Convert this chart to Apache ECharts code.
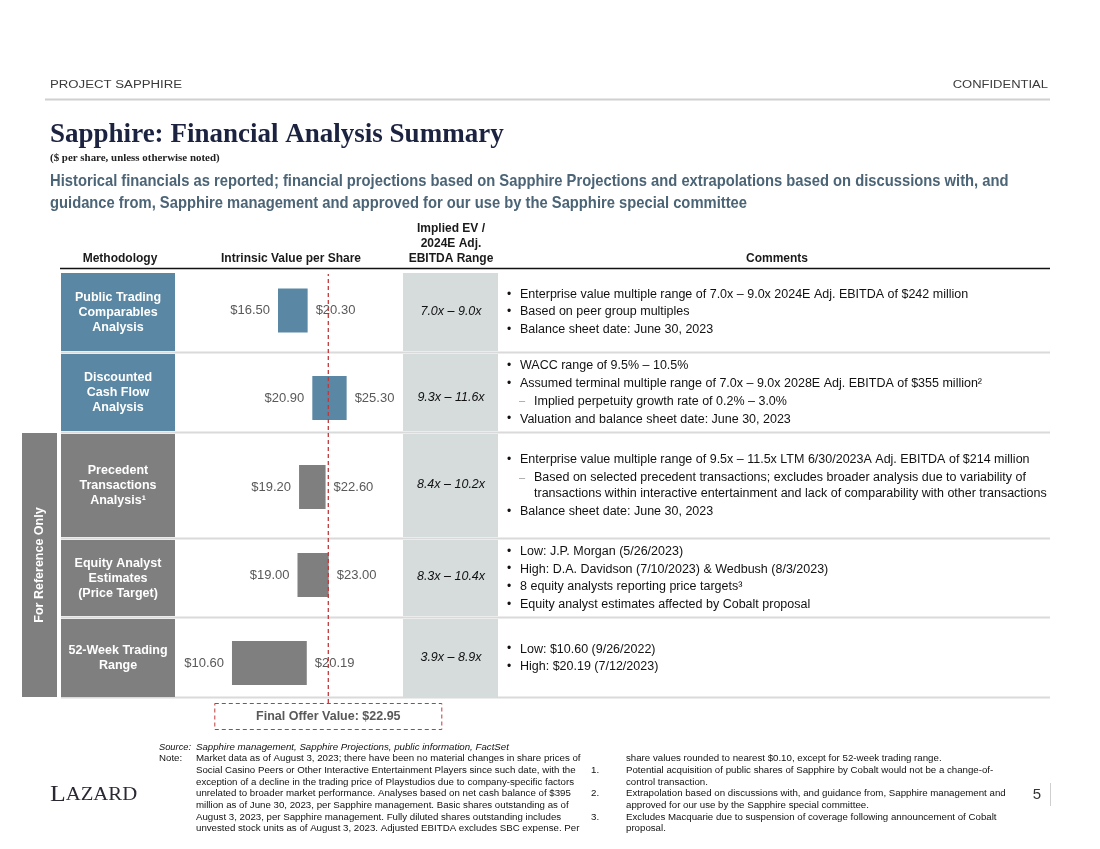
<!DOCTYPE html>
<html>
<head>
<meta charset="utf-8">
<script src="https://cdn.jsdelivr.net/npm/echarts@6/dist/echarts.min.js"></script>
<style>
html,body{margin:0;padding:0;background:#fff;}
#chart{width:1100px;height:849px;}
</style>
</head>
<body>
<div id="chart"></div>
<script>
// ---------------- DATA ----------------
const methods = ['Public Trading\nComparables\nAnalysis', 'Discounted\nCash Flow\nAnalysis', 'Precedent\nTransactions\nAnalysis¹', 'Equity Analyst\nEstimates\n(Price Target)', '52-Week Trading\nRange'];
const lows = [16.50, 20.90, 19.20, 19.00, 10.60];
const highs = [20.30, 25.30, 22.60, 23.00, 20.19];
const evRanges = ['7.0x – 9.0x', '9.3x – 11.6x', '8.4x – 10.2x', '8.3x – 10.4x', '3.9x – 8.9x'];
const finalOffer = 22.95;
const offerLabel = 'Final Offer Value: $22.95';
const referenceOnly = [false, false, true, true, true];
const comments = [
  [['b', 'Enterprise value multiple range of 7.0x – 9.0x 2024E Adj. EBITDA of $242 million'], ['b', 'Based on peer group multiples'], ['b', 'Balance sheet date: June 30, 2023']],
  [['b', 'WACC range of 9.5% – 10.5%'], ['b', 'Assumed terminal multiple range of 7.0x – 9.0x 2028E Adj. EBITDA of $355 million²'], ['s', 'Implied perpetuity growth rate of 0.2% – 3.0%'], ['b', 'Valuation and balance sheet date: June 30, 2023']],
  [['b', 'Enterprise value multiple range of 9.5x – 11.5x LTM 6/30/2023A Adj. EBITDA of $214 million'], ['s', 'Based on selected precedent transactions; excludes broader analysis due to variability of'], ['c', 'transactions within interactive entertainment and lack of comparability with other transactions'], ['b', 'Balance sheet date: June 30, 2023']],
  [['b', 'Low: J.P. Morgan (5/26/2023)'], ['b', 'High: D.A. Davidson (7/10/2023) & Wedbush (8/3/2023)'], ['b', '8 equity analysts reporting price targets³'], ['b', 'Equity analyst estimates affected by Cobalt proposal']],
  [['b', 'Low: $10.60 (9/26/2022)'], ['b', 'High: $20.19 (7/12/2023)']]
];
const headerLeft = 'PROJECT SAPPHIRE';
const headerRight = 'CONFIDENTIAL';
const titleText = 'Sapphire: Financial Analysis Summary';
const unitText = '($ per share, unless otherwise noted)';
const subtitleLines = ['Historical financials as reported; financial projections based on Sapphire Projections and extrapolations based on discussions with, and', 'guidance from, Sapphire management and approved for our use by the Sapphire special committee'];
const colHeaders = ['Methodology', 'Intrinsic Value per Share', 'Implied EV /\n2024E Adj.\nEBITDA Range', 'Comments'];
const refLabel = 'For Reference Only';
const sourceText = 'Sapphire management, Sapphire Projections, public information, FactSet';
const noteLeft = ['Market data as of August 3, 2023; there have been no material changes in share prices of', 'Social Casino Peers or Other Interactive Entertainment Players since such date, with the', 'exception of a decline in the trading price of Playstudios due to company-specific factors', 'unrelated to broader market performance. Analyses based on net cash balance of $395', 'million as of June 30, 2023, per Sapphire management. Basic shares outstanding as of', 'August 3, 2023, per Sapphire management. Fully diluted shares outstanding includes', 'unvested stock units as of August 3, 2023. Adjusted EBITDA excludes SBC expense. Per'];
const noteRight = [['', 'share values rounded to nearest $0.10, except for 52-week trading range.'], ['1.', 'Potential acquisition of public shares of Sapphire by Cobalt would not be a change-of-'], ['', 'control transaction.'], ['2.', 'Extrapolation based on discussions with, and guidance from, Sapphire management and'], ['', 'approved for our use by the Sapphire special committee.'], ['3.', 'Excludes Macquarie due to suspension of coverage following announcement of Cobalt'], ['', 'proposal.']];
const pageNumber = '5';

// ---------------- LAYOUT / STYLE ----------------
const SANS = '"Liberation Sans", Arial, sans-serif';
const SERIF = '"Liberation Serif", "Times New Roman", serif';
const BLUE = '#5a87a3';
const GREY = '#7f7f7f';
const EVBG = '#d6dcdc';
const RED = '#c0393b';
const rowTop = [273, 354, 434, 540, 619];
const rowBot = [351, 431, 537, 616, 697];
const barMid = [310.5, 398, 487, 575, 663];
const evMid = [312, 398, 485, 577, 658];
const BAR_LEFT = 149.3, BAR_WIDTH = 234, XMIN = 0, XMAX = 30;

const chart = echarts.init(document.getElementById('chart'), null, {renderer: 'canvas'});

const g = [];
function txt(x, y, text, font, fill, align, vAlign, extra) {
  const el = {type: 'text', x: x, y: y, silent: true,
    style: Object.assign({text: text, font: font, fill: fill || '#000', align: align || 'left', verticalAlign: vAlign || 'middle'}, extra || {})};
  g.push(el);
  return el;
}
function rect(x, y, w, h, fill, extra) {
  g.push(Object.assign({type: 'rect', silent: true, shape: {x: x, y: y, width: w, height: h}, style: {fill: fill}}, extra || {}));
}
function line(x1, y1, x2, y2, stroke, w) {
  g.push({type: 'line', silent: true, shape: {x1: x1, y1: y1, x2: x2, y2: y2}, style: {stroke: stroke, lineWidth: w}});
}

// header
txt(50, 85, headerLeft, '10px ' + SANS, '#3a3a3a').scaleX = 1.32;
txt(1048, 85, headerRight, '10px ' + SANS, '#3a3a3a', 'right').scaleX = 1.3;
line(45, 99.5, 1050, 99.5, '#d0d0d0', 2);
// title
txt(50, 135, titleText, 'bold 28px ' + SERIF, '#1c2340').scaleX = 0.965;
txt(50, 158, unitText, 'bold 10.5px ' + SERIF, '#222').scaleX = 1.04;
const sub1 = txt(50, 181, subtitleLines[0], 'bold 17px ' + SANS, '#4b6476');
sub1.scaleX = 0.868;
const sub2 = txt(50, 203, subtitleLines[1], 'bold 17px ' + SANS, '#4b6476');
sub2.scaleX = 0.868;
// column headers
const HF = 'bold 12px ' + SANS;
txt(120, 259, colHeaders[0], HF, '#1a1a1a', 'center');
txt(291, 259, colHeaders[1], HF, '#1a1a1a', 'center');
txt(451, 244, colHeaders[2], HF, '#1a1a1a', 'center', 'middle', {lineHeight: 15});
txt(777, 259, colHeaders[3], HF, '#1a1a1a', 'center');
line(60, 268.5, 1050, 268.5, '#111', 1.5);

// row separators
const seps = [352.5, 432.5, 538.5, 617.5, 697.5];
seps.forEach(function (y) { line(61, y, 1050, y, '#dadada', 2); });

// reference-only box
rect(22, 433, 35, 264, GREY);
txt(40, 565, refLabel, 'bold 12.5px ' + SANS, '#fff', 'center', 'middle').rotation = Math.PI / 2;

// rows
for (let i = 0; i < methods.length; i++) {
  const top = rowTop[i], h = rowBot[i] - rowTop[i], mid = (rowTop[i] + rowBot[i]) / 2;
  rect(61, top, 114, h, referenceOnly[i] ? GREY : BLUE);
  txt(118, mid + 0.5, methods[i], 'bold 12.5px ' + SANS, '#fff', 'center', 'middle', {lineHeight: 15});
  rect(403, top, 95, h, EVBG);
  txt(451, evMid[i], evRanges[i], 'italic 12.5px ' + SANS, '#111', 'center');
  // comments
  const lines = comments[i];
  let total = 0;
  for (let k = 1; k < lines.length; k++) total += (lines[k][0] === 'c' ? 16 : 17.7);
  let y = mid - total / 2;
  for (let k = 0; k < lines.length; k++) {
    if (k > 0) y += (lines[k][0] === 'c' ? 16 : 17.7);
    const kind = lines[k][0];
    const CF = '12.5px ' + SANS;
    if (kind === 'b') {
      txt(509, y, '•', '12px ' + SANS, '#111', 'center');
      txt(520, y, lines[k][1], CF, '#111');
    } else if (kind === 's') {
      txt(522, y, '–', '11px ' + SANS, '#999', 'center');
      txt(534, y, lines[k][1], CF, '#111');
    } else {
      txt(534, y, lines[k][1], CF, '#111');
    }
  }
}

// footnotes
const FN = '9.7px ' + SANS;
txt(159, 747, 'Source:', 'italic 9.3px ' + SANS, '#111');
txt(196, 747, sourceText, 'italic ' + FN, '#111');
txt(159, 758.5, 'Note:', FN, '#111');
noteLeft.forEach(function (s, k) { txt(196, 758.5 + k * 11.7, s, FN, '#111'); });
noteRight.forEach(function (r, k) {
  if (r[0]) txt(591, 758.5 + k * 11.7, r[0], FN, '#111');
  txt(626, 758.5 + k * 11.7, r[1], FN, '#111');
});
// logo & page number
txt(50, 795, '{a|L}{b|AZARD}', '19px ' + SERIF, '#2a2a35', 'left', 'middle', {
  rich: {a: {font: '23px ' + SERIF, fill: '#2a2a35'}, b: {font: '18.5px ' + SERIF, fill: '#2a2a35'}}
}).scaleX = 1.12;
txt(1037, 795, pageNumber, '15px ' + SANS, '#333', 'center');
line(1050.5, 783, 1050.5, 806, '#cfcfcf', 1);

// ---------------- CHART: grids / axes / series ----------------
const grids = [], xAxes = [], yAxes = [], series = [];
for (let i = 0; i < methods.length; i++) {
  grids.push({left: BAR_LEFT, width: BAR_WIDTH, top: barMid[i] - 30, height: 60, containLabel: false});
  xAxes.push({type: 'value', gridIndex: i, min: XMIN, max: XMAX, show: false});
  yAxes.push({type: 'category', gridIndex: i, data: [methods[i]], show: false});
  const labelStyle = {color: '#595959', fontFamily: SANS, fontSize: 13};
  series.push({
    type: 'bar', xAxisIndex: i, yAxisIndex: i, stack: 'r' + i, barWidth: 44, silent: true,
    itemStyle: {color: 'rgba(0,0,0,0)'},
    label: Object.assign({show: true, position: 'insideRight', distance: 8, formatter: function () { return '$' + lows[i].toFixed(2); }}, labelStyle),
    data: [lows[i]]
  });
  series.push({
    type: 'bar', xAxisIndex: i, yAxisIndex: i, stack: 'r' + i, barWidth: 44, silent: true,
    itemStyle: {color: referenceOnly[i] ? GREY : BLUE},
    label: Object.assign({show: true, position: 'right', distance: 8, formatter: function () { return '$' + highs[i].toFixed(2); }}, labelStyle),
    data: [highs[i] - lows[i]]
  });
}
// final offer line grid
const OI = methods.length;
grids.push({left: BAR_LEFT, width: BAR_WIDTH, top: 274, height: 429});
xAxes.push({type: 'value', gridIndex: OI, min: XMIN, max: XMAX, show: false});
yAxes.push({type: 'value', gridIndex: OI, min: 0, max: 1, show: false});
series.push({
  type: 'line', xAxisIndex: OI, yAxisIndex: OI, symbol: 'none', silent: true, z: 10,
  lineStyle: {color: RED, width: 1.3, type: [4, 3]},
  data: [[finalOffer, 0], [finalOffer, 1]]
});

chart.setOption({
  animation: false,
  backgroundColor: '#ffffff',
  grid: grids, xAxis: xAxes, yAxis: yAxes, series: series,
  graphic: g
});

// dashed offer box centred on the offer value
const px = chart.convertToPixel({xAxisIndex: OI}, finalOffer);
g.push({type: 'rect', silent: true, z: 20, shape: {x: px - 113.5, y: 703.5, width: 227, height: 26},
  style: {fill: '#fff', stroke: RED, lineWidth: 1, lineDash: [4, 3]}});
g.push({type: 'text', silent: true, z: 21, x: px, y: 717,
  style: {text: offerLabel, font: 'bold 12.5px ' + SANS, fill: '#595959', align: 'center', verticalAlign: 'middle'}});
chart.setOption({graphic: g});
</script>
</body>
</html>
